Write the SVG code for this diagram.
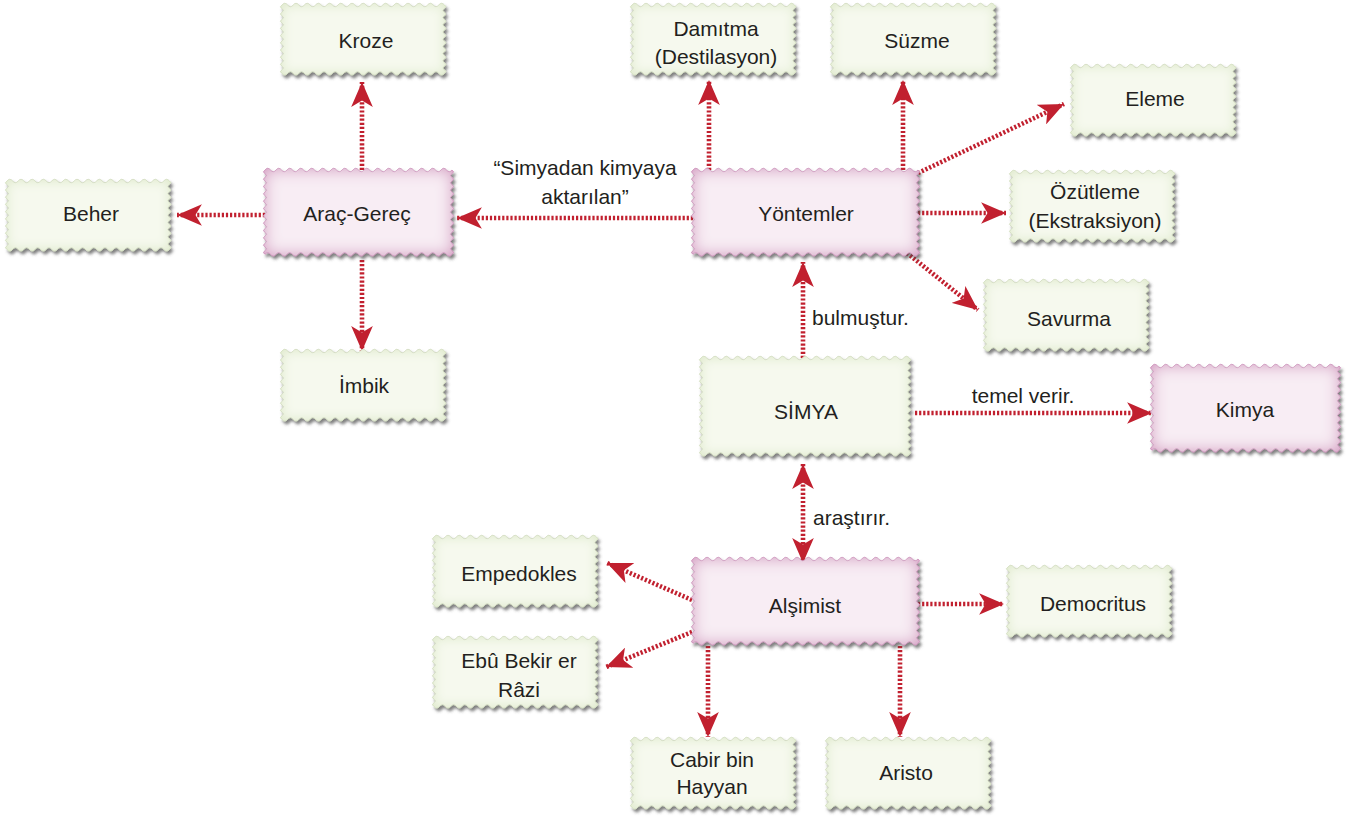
<svg xmlns="http://www.w3.org/2000/svg" xmlns:xlink="http://www.w3.org/1999/xlink" width="1347" height="816" viewBox="0 0 1347 816">
  <style>
    text { font-family: "Liberation Sans", Arial, sans-serif; font-size: 21px; fill: #231f20; }
    .c { text-anchor: middle; }
    .green { fill: #f6f9ee; stroke: #c6cfb6; stroke-width: 0.7; filter: url(#greenBox); }
    .pink { fill: #f8edf4; stroke: #c99bbb; stroke-width: 0.7; filter: url(#pinkBox); }
    .link { fill: none; stroke: #c1202f; stroke-width: 4.6; stroke-dasharray: 2.2 1.9; marker-end: url(#head); }
    .both { marker-start: url(#head); }
  </style>
  <defs>
    <marker id="head" markerUnits="userSpaceOnUse" markerWidth="26" markerHeight="22" refX="23" refY="10" orient="auto-start-reverse" viewBox="0 0 24 20">
      <path d="M0,0 L23,10 L0,20 L6,10 z" fill="#c1202f"/>
    </marker>
    <filter id="greenBox" x="-10%" y="-15%" width="125%" height="140%">
      <feGaussianBlur in="SourceAlpha" stdDeviation="6" result="b"/>
      <feFlood flood-color="#dbe7c6" result="c"/>
      <feComposite in="c" in2="b" operator="out" result="g"/>
      <feComposite in="g" in2="SourceAlpha" operator="in" result="gi"/>
      <feGaussianBlur in="SourceAlpha" stdDeviation="1.4" result="sb"/>
      <feOffset in="sb" dx="2" dy="3" result="so"/>
      <feFlood flood-color="#4a4a4a" flood-opacity="0.7"/>
      <feComposite in2="so" operator="in" result="sh"/>
      <feMerge><feMergeNode in="sh"/><feMergeNode in="SourceGraphic"/><feMergeNode in="gi"/></feMerge>
    </filter>
    <filter id="pinkBox" x="-10%" y="-15%" width="125%" height="140%">
      <feGaussianBlur in="SourceAlpha" stdDeviation="8" result="b"/>
      <feFlood flood-color="#cf8cba" result="c"/>
      <feComposite in="c" in2="b" operator="out" result="g"/>
      <feComposite in="g" in2="SourceAlpha" operator="in" result="gi"/>
      <feGaussianBlur in="SourceAlpha" stdDeviation="1.4" result="sb"/>
      <feOffset in="sb" dx="2" dy="3" result="so"/>
      <feFlood flood-color="#4a4a4a" flood-opacity="0.7"/>
      <feComposite in2="so" operator="in" result="sh"/>
      <feMerge><feMergeNode in="sh"/><feMergeNode in="SourceGraphic"/><feMergeNode in="gi"/></feMerge>
    </filter>
    <!-- scalloped box outlines, drawn from the top-left corner -->
    <path id="boxG" d="M0,0 q2.8,-3.4 5.6,0 t5.6,0 5.6,0 5.6,0 5.6,0 5.6,0 5.6,0 5.6,0 5.6,0 5.6,0 5.6,0 5.6,0 5.6,0 5.6,0 5.6,0 5.6,0 5.6,0 5.6,0 5.6,0 5.6,0 5.6,0 5.6,0 5.6,0 5.6,0 5.6,0 5.6,0 5.6,0 5.6,0 5.6,0
      q3,1.8 0,3.6 t0,3.6 0,3.6 0,3.6 0,3.6 0,3.6 0,3.6 0,3.6 0,3.6 0,3.6 0,3.6 0,3.6 0,3.6 0,3.6 0,3.6 0,3.6 0,3.6 0,3.6 0,3.6
      q-2.8,3.4 -5.6,0 t-5.6,0 -5.6,0 -5.6,0 -5.6,0 -5.6,0 -5.6,0 -5.6,0 -5.6,0 -5.6,0 -5.6,0 -5.6,0 -5.6,0 -5.6,0 -5.6,0 -5.6,0 -5.6,0 -5.6,0 -5.6,0 -5.6,0 -5.6,0 -5.6,0 -5.6,0 -5.6,0 -5.6,0 -5.6,0 -5.6,0 -5.6,0 -5.6,0
      q-3,-1.8 0,-3.6 t0,-3.6 0,-3.6 0,-3.6 0,-3.6 0,-3.6 0,-3.6 0,-3.6 0,-3.6 0,-3.6 0,-3.6 0,-3.6 0,-3.6 0,-3.6 0,-3.6 0,-3.6 0,-3.6 0,-3.6 0,-3.6 z"/>
    <path id="boxS" d="M0,0 q2.815,-3.4 5.63,0 t5.63,0 5.63,0 5.63,0 5.63,0 5.63,0 5.63,0 5.63,0 5.63,0 5.63,0 5.63,0 5.63,0 5.63,0 5.63,0 5.63,0 5.63,0 5.63,0 5.63,0 5.63,0 5.63,0 5.63,0 5.63,0 5.63,0 5.63,0 5.63,0 5.63,0 5.63,0 5.63,0 5.63,0 5.63,0 5.63,0 5.63,0 5.63,0 5.63,0 5.63,0 5.63,0 5.63,0
      q3,1.785 0,3.57 t0,3.57 0,3.57 0,3.57 0,3.57 0,3.57 0,3.57 0,3.57 0,3.57 0,3.57 0,3.57 0,3.57 0,3.57 0,3.57 0,3.57 0,3.57 0,3.57 0,3.57 0,3.57 0,3.57 0,3.57 0,3.57 0,3.57 0,3.57 0,3.57 0,3.57 0,3.57
      q-2.815,3.4 -5.63,0 t-5.63,0 -5.63,0 -5.63,0 -5.63,0 -5.63,0 -5.63,0 -5.63,0 -5.63,0 -5.63,0 -5.63,0 -5.63,0 -5.63,0 -5.63,0 -5.63,0 -5.63,0 -5.63,0 -5.63,0 -5.63,0 -5.63,0 -5.63,0 -5.63,0 -5.63,0 -5.63,0 -5.63,0 -5.63,0 -5.63,0 -5.63,0 -5.63,0 -5.63,0 -5.63,0 -5.63,0 -5.63,0 -5.63,0 -5.63,0 -5.63,0 -5.63,0
      q-3,-1.785 0,-3.57 t0,-3.57 0,-3.57 0,-3.57 0,-3.57 0,-3.57 0,-3.57 0,-3.57 0,-3.57 0,-3.57 0,-3.57 0,-3.57 0,-3.57 0,-3.57 0,-3.57 0,-3.57 0,-3.57 0,-3.57 0,-3.57 0,-3.57 0,-3.57 0,-3.57 0,-3.57 0,-3.57 0,-3.57 0,-3.57 0,-3.57 z"/>
    <path id="boxP1" d="M0,0 q2.75,-3.4 5.5,0 t5.5,0 5.5,0 5.5,0 5.5,0 5.5,0 5.5,0 5.5,0 5.5,0 5.5,0 5.5,0 5.5,0 5.5,0 5.5,0 5.5,0 5.5,0 5.5,0 5.5,0 5.5,0 5.5,0 5.5,0 5.5,0 5.5,0 5.5,0 5.5,0 5.5,0 5.5,0 5.5,0 5.5,0 5.5,0 5.5,0 5.5,0 5.5,0 5.5,0
      q3,1.833 0,3.667 t0,3.667 0,3.667 0,3.667 0,3.667 0,3.667 0,3.667 0,3.667 0,3.667 0,3.667 0,3.667 0,3.667 0,3.667 0,3.667 0,3.667 0,3.667 0,3.667 0,3.667 0,3.667 0,3.667 0,3.667 0,3.667 0,3.667
      q-2.75,3.4 -5.5,0 t-5.5,0 -5.5,0 -5.5,0 -5.5,0 -5.5,0 -5.5,0 -5.5,0 -5.5,0 -5.5,0 -5.5,0 -5.5,0 -5.5,0 -5.5,0 -5.5,0 -5.5,0 -5.5,0 -5.5,0 -5.5,0 -5.5,0 -5.5,0 -5.5,0 -5.5,0 -5.5,0 -5.5,0 -5.5,0 -5.5,0 -5.5,0 -5.5,0 -5.5,0 -5.5,0 -5.5,0 -5.5,0 -5.5,0
      q-3,-1.833 0,-3.667 t0,-3.667 0,-3.667 0,-3.667 0,-3.667 0,-3.667 0,-3.667 0,-3.667 0,-3.667 0,-3.667 0,-3.667 0,-3.667 0,-3.667 0,-3.667 0,-3.667 0,-3.667 0,-3.667 0,-3.667 0,-3.667 0,-3.667 0,-3.667 0,-3.667 0,-3.667 z"/>
    <path id="boxP2" d="M0,0 q2.8125,-3.4 5.625,0 t5.625,0 5.625,0 5.625,0 5.625,0 5.625,0 5.625,0 5.625,0 5.625,0 5.625,0 5.625,0 5.625,0 5.625,0 5.625,0 5.625,0 5.625,0 5.625,0 5.625,0 5.625,0 5.625,0 5.625,0 5.625,0 5.625,0 5.625,0 5.625,0 5.625,0 5.625,0 5.625,0 5.625,0 5.625,0 5.625,0 5.625,0 5.625,0 5.625,0 5.625,0 5.625,0 5.625,0 5.625,0 5.625,0 5.625,0
      q3,1.833 0,3.667 t0,3.667 0,3.667 0,3.667 0,3.667 0,3.667 0,3.667 0,3.667 0,3.667 0,3.667 0,3.667 0,3.667 0,3.667 0,3.667 0,3.667 0,3.667 0,3.667 0,3.667 0,3.667 0,3.667 0,3.667 0,3.667 0,3.667
      q-2.8125,3.4 -5.625,0 t-5.625,0 -5.625,0 -5.625,0 -5.625,0 -5.625,0 -5.625,0 -5.625,0 -5.625,0 -5.625,0 -5.625,0 -5.625,0 -5.625,0 -5.625,0 -5.625,0 -5.625,0 -5.625,0 -5.625,0 -5.625,0 -5.625,0 -5.625,0 -5.625,0 -5.625,0 -5.625,0 -5.625,0 -5.625,0 -5.625,0 -5.625,0 -5.625,0 -5.625,0 -5.625,0 -5.625,0 -5.625,0 -5.625,0 -5.625,0 -5.625,0 -5.625,0 -5.625,0 -5.625,0 -5.625,0
      q-3,-1.833 0,-3.667 t0,-3.667 0,-3.667 0,-3.667 0,-3.667 0,-3.667 0,-3.667 0,-3.667 0,-3.667 0,-3.667 0,-3.667 0,-3.667 0,-3.667 0,-3.667 0,-3.667 0,-3.667 0,-3.667 0,-3.667 0,-3.667 0,-3.667 0,-3.667 0,-3.667 0,-3.667 z"/>
  </defs>

  <g id="connectors">
    <line class="link" x1="362" y1="170" x2="362" y2="82"/>
    <line class="link" x1="265" y1="215" x2="177" y2="215"/>
    <line class="link" x1="362" y1="260" x2="362" y2="351"/>
    <line class="link" x1="693" y1="218" x2="457" y2="218"/>
    <line class="link" x1="709" y1="170" x2="709" y2="80"/>
    <line class="link" x1="903" y1="170" x2="903" y2="80"/>
    <line class="link" x1="918" y1="173" x2="1064" y2="104"/>
    <line class="link" x1="918" y1="213" x2="1006" y2="213"/>
    <line class="link" x1="907" y1="253" x2="978" y2="310"/>
    <line class="link" x1="803" y1="358" x2="803" y2="262"/>
    <line class="link" x1="915" y1="413" x2="1152" y2="413"/>
    <line class="link both" x1="803" y1="464" x2="803" y2="563"/>
    <line class="link" x1="692" y1="600" x2="607" y2="563"/>
    <line class="link" x1="692" y1="632" x2="606" y2="667"/>
    <line class="link" x1="918" y1="604" x2="1004" y2="604"/>
    <line class="link" x1="708" y1="646" x2="708" y2="737"/>
    <line class="link" x1="900" y1="646" x2="900" y2="737"/>
  </g>

  <g id="labels">
    <text class="c" x="585" y="175">“Simyadan kimyaya</text>
    <text class="c" x="585" y="204">aktarılan”</text>
    <text x="812" y="325">bulmuştur.</text>
    <text class="c" x="1023" y="403">temel verir.</text>
    <text x="813" y="525">araştırır.</text>
  </g>

  <g id="kroze"><use xlink:href="#boxG" class="green" x="282" y="5"/><text class="c" x="366" y="48">Kroze</text></g>
  <g id="beher"><use xlink:href="#boxG" class="green" x="7" y="181"/><text class="c" x="91" y="221">Beher</text></g>
  <g id="imbik"><use xlink:href="#boxG" class="green" x="282" y="351"/><text class="c" x="364" y="393">İmbik</text></g>
  <g id="arac-gerec"><use xlink:href="#boxP1" class="pink" x="265" y="170"/><text class="c" x="357" y="221">Araç-Gereç</text></g>
  <g id="damitma"><use xlink:href="#boxG" class="green" x="632" y="5"/><text class="c" x="716" y="36">Damıtma</text><text class="c" x="716" y="64">(Destilasyon)</text></g>
  <g id="suzme"><use xlink:href="#boxG" class="green" x="832" y="5"/><text class="c" x="917" y="48">Süzme</text></g>
  <g id="eleme"><use xlink:href="#boxG" class="green" x="1072" y="66"/><text class="c" x="1155" y="106">Eleme</text></g>
  <g id="ozutleme"><use xlink:href="#boxG" class="green" x="1011" y="172"/><text class="c" x="1095" y="199">Özütleme</text><text class="c" x="1095" y="228">(Ekstraksiyon)</text></g>
  <g id="savurma"><use xlink:href="#boxG" class="green" x="985" y="281"/><text class="c" x="1069" y="326">Savurma</text></g>
  <g id="yontemler"><use xlink:href="#boxP2" class="pink" x="693" y="170"/><text class="c" x="806" y="221">Yöntemler</text></g>
  <g id="simya"><use xlink:href="#boxS" class="green" x="701" y="358"/><text class="c" x="806" y="419">SİMYA</text></g>
  <g id="kimya"><use xlink:href="#boxP1" class="pink" x="1152" y="366"/><text class="c" x="1245" y="417">Kimya</text></g>
  <g id="alsimist"><use xlink:href="#boxP2" class="pink" x="693" y="559"/><text class="c" x="805" y="613">Alşimist</text></g>
  <g id="empedokles"><use xlink:href="#boxG" class="green" x="434" y="537"/><text class="c" x="519" y="581">Empedokles</text></g>
  <g id="ebu-bekir"><use xlink:href="#boxG" class="green" x="434" y="638"/><text class="c" x="519" y="668">Ebû Bekir er</text><text class="c" x="519" y="697">Râzi</text></g>
  <g id="democritus"><use xlink:href="#boxG" class="green" x="1008" y="567"/><text class="c" x="1093" y="611">Democritus</text></g>
  <g id="cabir"><use xlink:href="#boxG" class="green" x="632" y="739"/><text class="c" x="712" y="767">Cabir bin</text><text class="c" x="712" y="794">Hayyan</text></g>
  <g id="aristo"><use xlink:href="#boxG" class="green" x="827" y="739"/><text class="c" x="906" y="780">Aristo</text></g>
</svg>
